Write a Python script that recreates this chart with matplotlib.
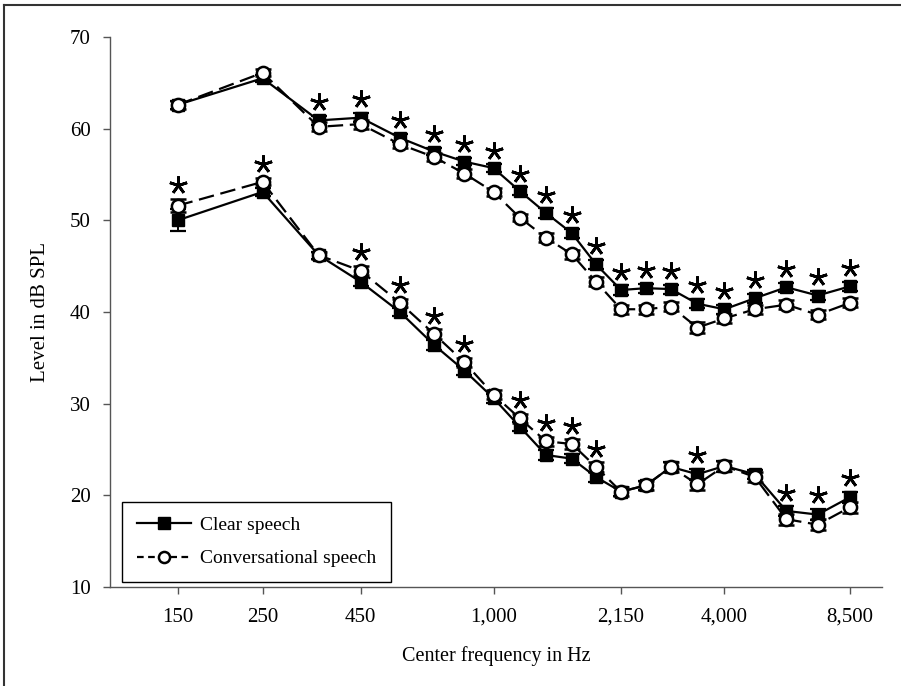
import matplotlib
matplotlib.use("Agg")
import matplotlib.pyplot as plt
from matplotlib.lines import Line2D
import numpy as np

plt.rcParams['font.family'] = ['Liberation Serif', 'DejaVu Serif']

# centre frequencies of the bands (Hz)
freqs = [150, 250, 350, 450, 570, 700, 840, 1000, 1170, 1370, 1600, 1850,
         2150, 2500, 2900, 3400, 4000, 4800, 5800, 7000, 8500]
tick_freqs = [150, 250, 450, 1000, 2150, 4000, 8500]
tick_labels = ["150", "250", "450", "1,000", "2,150", "4,000", "8,500"]

# upper pair of curves
clear_hi = [62.6, 65.5, 60.9, 61.2, 59.0, 57.5, 56.4, 55.7, 53.2, 50.8, 48.6, 45.2,
            42.4, 42.6, 42.5, 40.9, 40.3, 41.5, 42.7, 41.8, 42.8]
conv_hi = [62.6, 66.1, 60.2, 60.5, 58.3, 56.9, 55.1, 53.1, 50.3, 48.1, 46.3, 43.3,
           40.3, 40.3, 40.6, 38.3, 39.3, 40.3, 40.8, 39.7, 41.0]
clear_hi_err = [0.4, 0.4, 0.5, 0.5, 0.4, 0.4, 0.4, 0.4, 0.4, 0.5, 0.5, 0.5,
                0.5, 0.5, 0.5, 0.5, 0.5, 0.5, 0.5, 0.5, 0.5]
conv_hi_err = [0.4, 0.4, 0.5, 0.5, 0.4, 0.4, 0.5, 0.4, 0.4, 0.5, 0.5, 0.5,
               0.5, 0.5, 0.5, 0.6, 0.5, 0.5, 0.5, 0.5, 0.5]

# lower pair of curves
clear_lo = [50.0, 53.1, 46.2, 43.3, 40.0, 36.4, 33.6, 30.6, 27.5, 24.4, 24.0, 22.0,
            20.4, 21.1, 23.1, 22.3, 23.2, 22.3, 18.3, 17.9, 19.8]
conv_lo = [51.6, 54.2, 46.2, 44.5, 41.0, 37.6, 34.5, 31.0, 28.4, 25.9, 25.6, 23.1,
           20.4, 21.1, 23.1, 21.2, 23.2, 22.0, 17.4, 16.8, 18.7]
clear_lo_err = [1.2, 0.4, 0.4, 0.5, 0.4, 0.5, 0.5, 0.5, 0.5, 0.5, 0.5, 0.5,
                0.5, 0.5, 0.5, 0.6, 0.6, 0.5, 0.5, 0.6, 0.6]
conv_lo_err = [0.7, 0.4, 0.4, 0.5, 0.4, 0.5, 0.5, 0.5, 0.5, 0.5, 0.5, 0.5,
               0.5, 0.5, 0.5, 0.6, 0.5, 0.5, 0.6, 0.6, 0.6]

# significant differences (index into freqs)
sig_hi = [2, 3, 4, 5, 6, 7, 8, 9, 10, 11, 12, 13, 14, 15, 16, 17, 18, 19, 20]
sig_lo = [0, 1, 3, 4, 5, 6, 8, 9, 10, 11, 15, 18, 19, 20]

fig = plt.figure(figsize=(9.01, 6.86), dpi=100)
ax = fig.add_axes([110 / 901, 1 - 587 / 686, 772 / 901, 550 / 686])

clear_style = dict(color='black', lw=1.6, marker='s', ms=9, mfc='black', mec='black',
                   ecolor='black', elinewidth=1.4, capsize=6, capthick=1.6)
conv_style = dict(color='black', lw=1.6, ls=(0, (7, 3)), marker='o', ms=9.5, mfc='white',
                  mec='black', mew=1.8, ecolor='black', elinewidth=1.4, capsize=6, capthick=1.6)

ax.errorbar(freqs, clear_hi, yerr=clear_hi_err, zorder=3, **clear_style)
ax.errorbar(freqs, clear_lo, yerr=clear_lo_err, zorder=3, **clear_style)
ax.errorbar(freqs, conv_hi, yerr=conv_hi_err, zorder=4, **conv_style)
ax.errorbar(freqs, conv_lo, yerr=conv_lo_err, zorder=4, **conv_style)

# asterisks above the higher curve of each pair
for a, b, ea, eb, idx in [(clear_hi, conv_hi, clear_hi_err, conv_hi_err, sig_hi),
                          (clear_lo, conv_lo, clear_lo_err, conv_lo_err, sig_lo)]:
    top = np.maximum(np.array(a) + ea, np.array(b) + eb) + 1.5
    fx = np.array(freqs)[idx]
    ax.plot(fx, top[idx], ls='none', marker=(5, 2, 0), ms=13, mew=2.0, color='black', zorder=5)

ax.set_xscale('log')
ax.set_xlim(100, 10300)
ax.set_ylim(10, 70)
ax.set_xticks(tick_freqs)
ax.set_xticklabels(tick_labels)
ax.xaxis.set_minor_locator(matplotlib.ticker.NullLocator())
ax.set_yticks([10, 20, 30, 40, 50, 60, 70])

for s in ['top', 'right']:
    ax.spines[s].set_visible(False)
for s in ['left', 'bottom']:
    ax.spines[s].set_color('#555555')
    ax.spines[s].set_linewidth(1.0)
ax.tick_params(axis='both', direction='out', length=5, width=1.0, color='#555555',
               labelsize=15)
ax.tick_params(axis='x', pad=10)
ax.tick_params(axis='y', pad=9)

ax.set_xlabel("Center frequency in Hz", fontsize=14.5, labelpad=14)
ax.set_ylabel("Level in dB SPL", fontsize=15, labelpad=14)

handles = [Line2D([], [], color='black', lw=1.6, marker='s', ms=9),
           Line2D([], [], color='black', lw=1.6, ls=(0, (3, 2)), marker='o', ms=8,
                  mfc='white', mew=1.8)]
leg = ax.legend(handles, ["Clear speech", "Conversational speech"], loc='lower left',
                bbox_to_anchor=(0.0155, 0.009), borderaxespad=0, fancybox=False,
                edgecolor='black', fontsize=14, handlelength=2.8, handletextpad=0.45,
                labelspacing=0.8, borderpad=0.75, framealpha=1)
leg.get_frame().set_linewidth(1.0)

# outer frame (left and top edges)
fig.add_artist(Line2D([4 / 901, 4 / 901], [0, 1 - 5 / 686], transform=fig.transFigure,
                      color='#333333', lw=1.5))
fig.add_artist(Line2D([4 / 901, 1], [1 - 5 / 686, 1 - 5 / 686], transform=fig.transFigure,
                      color='#333333', lw=1.5))

fig.savefig("out.png", dpi=100)
